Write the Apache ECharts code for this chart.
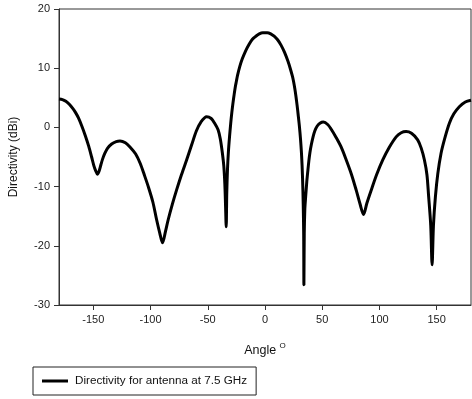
<!DOCTYPE html>
<html>
<head>
<meta charset="utf-8">
<script src="https://cdn.jsdelivr.net/npm/echarts@6/dist/echarts.min.js"></script>
<style>
html,body{margin:0;padding:0;background:#fff;}
#c{width:472px;height:399px;}
</style>
</head>
<body>
<div id="c"></div>
<script>
var angles = [-180,-177,-174,-171,-168,-165.5,-163,-160,-157,-154,-151.5,-149.5,-148,-146.5,-145,-143.5,-142,-140,-137.5,-134,-130,-126.7,-122,-118,-113,-109,-105.5,-102,-98,-94.7,-92,-89.5,-87,-84.6,-81,-77.3,-73,-68.5,-64,-60,-56,-51,-47,-44,-41,-39,-37.2,-36,-35.1,-34.5,-33.9,-33.4,-32.8,-32,-31,-30,-29,-28,-27,-26,-25,-24,-22,-20,-17,-14,-11,-8,-5,-2,0,2,5,8,11,14,17,20,22,24,25,26,27,28,29,30,31,32,32.8,33.4,33.8,34.0,34.3,34.8,35.5,36.5,37.5,38.3,39.3,40.5,42,43.5,45.5,48,51,55,58,62,66.5,71,75.5,79.7,83,86.1,89,92.8,97.5,102.9,108.5,114.6,119,123.3,128,133.4,136.5,139.3,141.5,143,144.8,146,147.2,148.9,151,153.8,157,161.1,165,169.8,175,180];
var directivity = [4.8,4.7,4.4,3.9,3.2,2.5,1.6,0.2,-1.4,-3.2,-5.0,-6.5,-7.3,-7.9,-7.4,-6.4,-5.4,-4.4,-3.5,-2.8,-2.4,-2.3,-2.6,-3.3,-4.5,-6.1,-8.0,-10.0,-12.6,-15.6,-17.8,-19.5,-17.6,-15.6,-13.0,-10.6,-8.0,-5.5,-2.9,-0.6,0.9,1.8,1.5,0.7,-0.4,-2.0,-4.4,-6.5,-9.5,-13,-16.8,-11,-7.2,-4.2,-1.6,0.6,2.5,4.1,5.5,6.8,7.8,8.8,10.3,11.5,12.9,14.0,14.9,15.4,15.8,16.0,16.0,16.0,15.8,15.4,14.8,13.9,12.7,11.2,10.0,8.6,7.7,6.6,5.3,3.8,2.1,0.3,-1.9,-4.8,-8.5,-13,-18,-26.6,-18,-13.8,-11.8,-9.2,-7.2,-5.7,-4.2,-2.9,-1.6,-0.6,0.2,0.7,0.9,0.45,-0.35,-1.65,-3.3,-5.5,-7.9,-10.6,-12.9,-14.7,-12.8,-10.6,-8.0,-5.5,-3.4,-1.6,-0.9,-0.7,-1.0,-2.1,-3.5,-5.5,-8.0,-11.7,-16.5,-23.2,-16.5,-11.7,-7.8,-4.4,-1.9,0.7,2.3,3.5,4.3,4.6];
var xTicks = [-150,-100,-50,0,50,100,150];
var seriesName = 'Directivity for antenna at 7.5 GHz';

var data = angles.map(function(a,i){return [a, directivity[i]];});
var chart = echarts.init(document.getElementById('c'), null, {renderer:'canvas'});
var font = 'Liberation Sans, Arial, sans-serif';
chart.setOption({
  animation:false,
  backgroundColor:'#fff',
  grid:{left:59,right:1,top:9,bottom:94,show:true,borderColor:'#333',borderWidth:1,containLabel:false},
  legend:{
    left:33, top:367,
    orient:'horizontal',
    borderColor:'#222', borderWidth:1,
    padding:[7,9,7,9],
    itemWidth:26, itemHeight:3, itemGap:5,
    textStyle:{fontFamily:font,fontSize:11.7,color:'#111',padding:[0,0,0,2],lineHeight:14},
    data:[{name:seriesName, icon:'rect'}]
  },
  xAxis:{
    type:'value', min:-180, max:180,
    name:'Angle {s|O}', nameLocation:'middle', nameGap:37,
    nameTextStyle:{fontFamily:font,fontSize:12.5,color:'#111',rich:{s:{fontFamily:font,fontSize:8,color:'#111',verticalAlign:'top',padding:[0,0,9,0]}}},
    axisLine:{show:true,onZero:false,lineStyle:{color:'#333',width:1}},
    axisTick:{show:true,length:5,inside:false,customValues:xTicks,lineStyle:{color:'#333'}},
    axisLabel:{customValues:xTicks,margin:9,fontFamily:font,fontSize:11,color:'#222'},
    splitLine:{show:false}
  },
  yAxis:{
    type:'value', min:-30, max:20, interval:10,
    name:'Directivity (dBi)', nameLocation:'middle', nameGap:39, nameRotate:90,
    nameTextStyle:{fontFamily:font,fontSize:12,color:'#111'},
    axisLine:{show:true,onZero:false,lineStyle:{color:'#333',width:1}},
    axisTick:{show:true,length:5,inside:false,lineStyle:{color:'#333'}},
    axisLabel:{margin:9,fontFamily:font,fontSize:11,color:'#222'},
    splitLine:{show:false}
  },
  series:[{
    name:seriesName, type:'line', data:data,
    showSymbol:false, symbol:'none', smooth:0.3,
    lineStyle:{color:'#000',width:3},
    itemStyle:{color:'#000'}
  }]
});
</script>
</body>
</html>
